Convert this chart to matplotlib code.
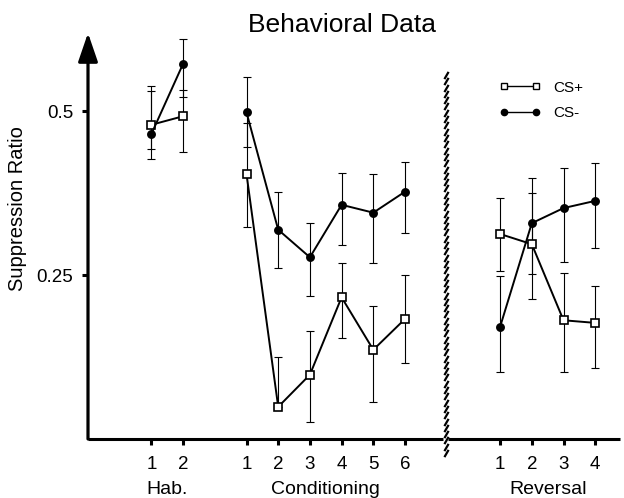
import numpy as np
import matplotlib
matplotlib.use("Agg")
import matplotlib.pyplot as plt

plt.rcParams['font.family'] = ['Liberation Sans', 'DejaVu Sans']

# ---- data ----
hab_x = [2, 3]
cond_x = [5, 6, 7, 8, 9, 10]
rev_x = [13, 14, 15, 16]

hab_csp = [0.479, 0.492]
hab_csp_lo = [0.427, 0.438]
hab_csp_hi = [0.530, 0.532]
hab_csm = [0.465, 0.572]
hab_csm_lo = [0.442, 0.521]
hab_csm_hi = [0.538, 0.610]

cond_csp = [0.404, 0.049, 0.098, 0.216, 0.136, 0.183]
cond_csp_lo = [0.323, 0.049, 0.026, 0.154, 0.056, 0.116]
cond_csp_hi = [0.482, 0.125, 0.165, 0.268, 0.203, 0.250]
cond_csm = [0.498, 0.319, 0.277, 0.357, 0.345, 0.377]
cond_csm_lo = [0.445, 0.261, 0.218, 0.296, 0.268, 0.314]
cond_csm_hi = [0.552, 0.377, 0.329, 0.405, 0.404, 0.422]

rev_csp = [0.3125, 0.297, 0.181, 0.177]
rev_csp_lo = [0.256, 0.213, 0.102, 0.108]
rev_csp_hi = [0.367, 0.375, 0.253, 0.233]
rev_csm = [0.171, 0.329, 0.352, 0.363]
rev_csm_lo = [0.102, 0.2515, 0.270, 0.291]
rev_csm_hi = [0.248, 0.398, 0.413, 0.421]

tick_pos = hab_x + cond_x + rev_x
tick_labels = ['1', '2', '1', '2', '3', '4', '5', '6', '1', '2', '3', '4']
yticks = [0.25, 0.5]
ytick_labels = ['0.25', '0.5']
phase_names = ['Hab.', 'Conditioning', 'Reversal']
break_x = 11.29

W, H = 624, 498
fig = plt.figure(figsize=(W / 100, H / 100), dpi=100)
ax_l, ax_r, ax_b, ax_t = 88, 620, 439, 33
ax = fig.add_axes([ax_l / W, 1 - ax_b / H, (ax_r - ax_l) / W, (ax_b - ax_t) / H])
ax.set_xlim(0, (ax_r - ax_l) / 31.7)
ax.set_ylim(0, (ax_b - ax_t) / 656)
for s in ax.spines.values():
    s.set_visible(False)

def draw(x, m, lo, hi, marker, mfc):
    m = np.array(m); lo = np.array(lo); hi = np.array(hi)
    ax.errorbar(x, m, yerr=[m - lo, hi - m], fmt='none', ecolor='black',
                elinewidth=0.8, capsize=2.8, capthick=0.8, zorder=2)
    ax.plot(x, m, color='black', lw=1.4, marker=marker, ms=5.2, mfc=mfc,
            mec='black', mew=1.2, zorder=3)

for xs, d in [(hab_x, (hab_csp, hab_csp_lo, hab_csp_hi, hab_csm, hab_csm_lo, hab_csm_hi)),
              (cond_x, (cond_csp, cond_csp_lo, cond_csp_hi, cond_csm, cond_csm_lo, cond_csm_hi)),
              (rev_x, (rev_csp, rev_csp_lo, rev_csp_hi, rev_csm, rev_csm_lo, rev_csm_hi))]:
    draw(xs, d[0], d[1], d[2], 's', 'white')
    draw(xs, d[3], d[4], d[5], 'o', 'black')

# legend
h1, = ax.plot([], [], color='black', lw=1.0, marker='s', ms=4, mfc='white', mec='black', mew=1.0)
h2, = ax.plot([], [], color='black', lw=1.0, marker='o', ms=4.5, mfc='black', mec='black')
ax.legend([h1, h2], ['CS+', 'CS-'], numpoints=2, frameon=False, fontsize=11,
          handlelength=2.7, handletextpad=0.8, labelspacing=0.75,
          loc='center left', bbox_to_anchor=((486 - ax_l) / (ax_r - ax_l), (ax_b - 100.5) / (ax_b - ax_t)))

# axes lines
ax.annotate('', xy=(0, 1), xytext=(0, 0), xycoords='axes fraction',
            arrowprops=dict(arrowstyle='-|>,head_length=1.75,head_width=0.6',
                            lw=2.3, color='black', shrinkA=0, shrinkB=0, mutation_scale=10),
            annotation_clip=False)
xmax = ax.get_xlim()[1]
ax.plot([0, break_x - 0.08], [0, 0], color='black', lw=2.2, clip_on=False, solid_capstyle='butt')
ax.plot([break_x + 0.08, xmax], [0, 0], color='black', lw=2.2, clip_on=False, solid_capstyle='butt')
# hatched break line
yb = np.arange((ax_b - 453) / 656, (ax_b - 75) / 656, 6.3 / 656)
ax.plot(np.full_like(yb, break_x), yb, ls='none', marker=(2, 0, -30), ms=6, mew=1.6,
        color='black', clip_on=False)

ax.set_xticks(tick_pos)
ax.set_xticklabels(tick_labels, fontsize=13.5)
ax.set_yticks(yticks)
ax.set_yticklabels(ytick_labels, fontsize=13.5)
ax.tick_params(axis='x', direction='out', length=4.5, width=2.2, pad=7.5)
ax.tick_params(axis='y', direction='out', length=4.5, width=2.2, pad=6)

ax.set_ylabel('Suppression Ratio', fontsize=14.5)
ax.yaxis.set_label_coords((27 - ax_l) / (ax_r - ax_l), (ax_b - 209) / (ax_b - ax_t))

centers = [np.mean(hab_x), np.mean(cond_x), np.mean(rev_x)]
for c, n in zip(centers, phase_names):
    ax.text(c, (ax_b - 489) / (ax_b - ax_t), n, transform=ax.get_xaxis_transform(),
            ha='center', va='center', fontsize=14)

fig.text(342 / W, 1 - 25 / H, 'Behavioral Data', ha='center', va='center', fontsize=19)

fig.savefig('out.png', dpi=100)
